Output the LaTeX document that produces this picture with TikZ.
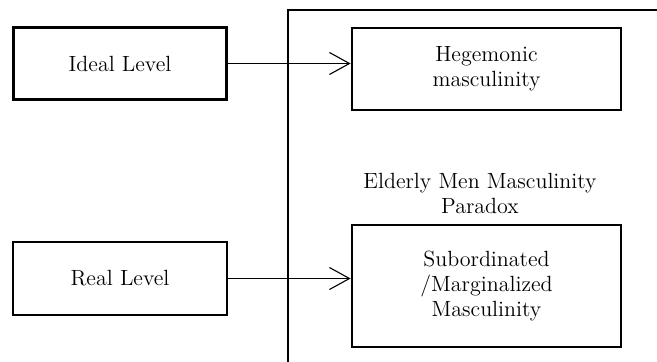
\documentclass[tikz,border=0pt]{standalone}
\usepackage{tikz}
\usetikzlibrary{arrows.meta}

\begin{document}
\begin{tikzpicture}[x=0.5pt,y=-0.5pt,
		level/.style={draw,line width=1.4pt,align=center,inner sep=0pt,font=\fontsize{11}{12.5}\selectfont},
		link/.style={line width=0.55pt,-{Straight Barb[length=10pt,width=11pt,line width=0.55pt]}}]
	    \useasboundingbox (0,0) rectangle (657,362);

	    \node[level,minimum width=106.5pt,minimum height=36pt] (ideal) at (120,63.5) {Ideal Level};
	    \node[level,minimum width=107pt,minimum height=36.5pt] (real) at (120,278.5) {Real Level};

	    \coordinate (fb) at (288,362);
	    \coordinate (fr) at (657,10);
	    \draw[line width=1.3pt] (fb) |- (fr);

	    \node[level,minimum width=134.5pt,minimum height=41pt] (hege) at (486.5,69) {Hegemonic\\masculinity};
	    \node[align=center,font=\fontsize{11}{12.5}\selectfont] (para) at (480,193) {Elderly Men Masculinity\\Paradox};
	    \node[level,minimum width=134.5pt,minimum height=61pt] (sub) at (486.5,286) {Subordinated\\/Marginalized\\Masculinity};

	    \draw[link] (ideal) -- (hege.west |- ideal);
	    \draw[link] (real) -- (sub.west |- real);
\end{tikzpicture}
\end{document}
